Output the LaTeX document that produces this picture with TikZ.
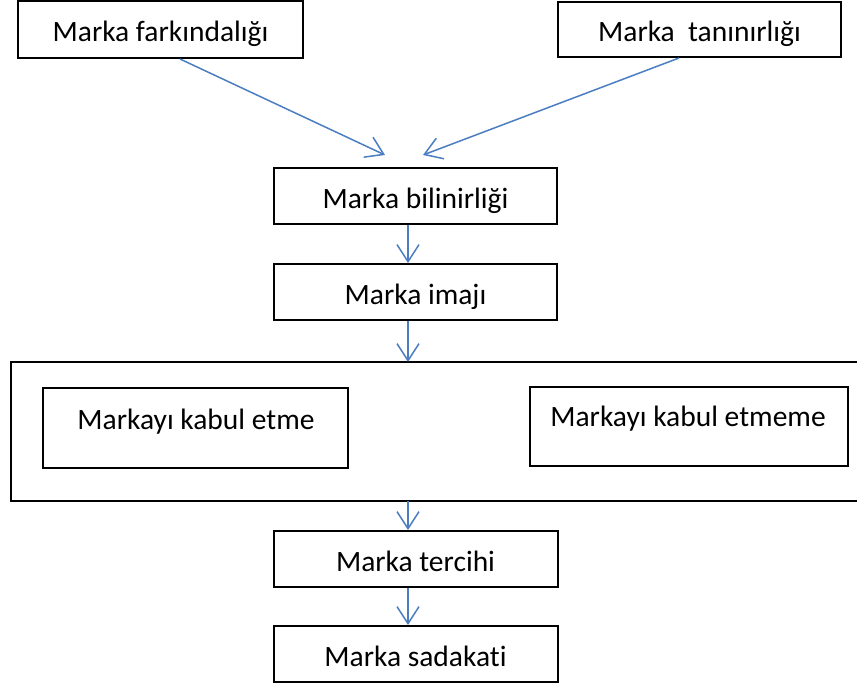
\documentclass[tikz,border=0pt]{standalone}
\usepackage{fontspec}
\setmainfont{Carlito}[Ligatures=NoCommon]
\usetikzlibrary{arrows.meta}
\definecolor{arrowblue}{RGB}{74,126,193}
\tikzset{
  lbl/.style={inner sep=0pt, font=\fontsize{29.5}{34}\selectfont, text height=24pt, text depth=0pt},
  box/.style={lbl, draw=black, line width=2pt, fill=white},
  flow/.style={draw=arrowblue, line width=1.5pt, -{Straight Barb[length=17pt,width=22pt,line width=1.5pt]}},
}
\begin{document}
\begin{tikzpicture}[x=1pt,y=-1pt]
\useasboundingbox (0,0) rectangle (857,686);
% outer container
\draw[line width=2pt] (11,362) rectangle (880,501);
\coordinate (outtop) at (408,362);
\coordinate (outbot) at (408,501);
% boxes
\node[box, minimum width=285pt, minimum height=57pt] (aware) at (160.5,29.5) {Marka farkındalığı};
\node[box, minimum width=283pt, minimum height=55pt] (recog) at (699.5,29.5) {Marka\ \ tanınırlığı};
\node[box, minimum width=283pt, minimum height=56pt] (known) at (415.5,196) {Marka bilinirliği};
\node[box, minimum width=283pt, minimum height=56pt] (image) at (415.5,292) {Marka imajı};
\node[box, minimum width=305pt, minimum height=80pt] (accept) at (195.5,428) {};
\node[lbl] (accepttxt) at (196,417.5) {Markayı kabul etme};
\node[box, minimum width=318pt, minimum height=79pt] (reject) at (689,426.5) {};
\node[lbl] (rejecttxt) at (688,414.5) {Markayı kabul etmeme};
\node[box, minimum width=284pt, minimum height=56pt] (pref) at (415.5,559) {Marka tercihi};
\node[box, minimum width=284pt, minimum height=56pt] (loyal) at (415.5,654) {Marka sadakati};
% connectors
\coordinate (t1) at (385,155);
\coordinate (t2) at (423,155);
\draw[flow] (aware.south -| 180,0) -- (t1);
\draw[flow] (recog.south -| 679,0) -- (t2);
\draw[flow] (known.south -| 408,0) -- (image.north -| 408,0);
\draw[flow] (image.south -| 408,0) -- (outtop);
\draw[flow] (outbot) -- (pref.north -| 408,0);
\draw[flow] (pref.south -| 408,0) -- (loyal.north -| 408,0);
\end{tikzpicture}
\end{document}
